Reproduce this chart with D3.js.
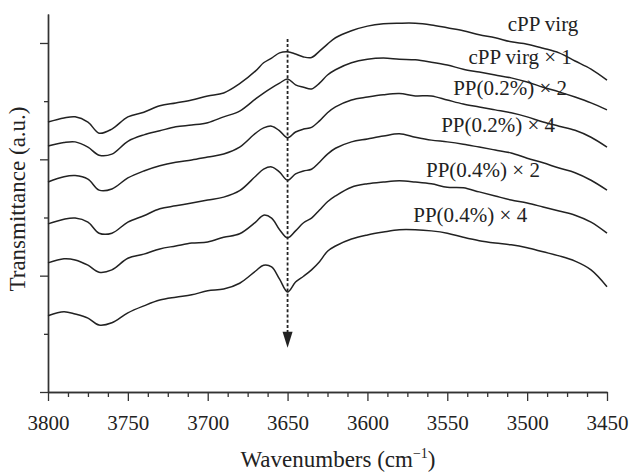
<!DOCTYPE html>
<html>
<head>
<meta charset="utf-8">
<script src="https://cdn.jsdelivr.net/npm/d3@7"></script>
<style>
  html, body { margin: 0; padding: 0; background: #fff; }
  svg { display: block; }
  text { font-family: "Liberation Serif", "Times New Roman", serif; fill: #222; }
</style>
</head>
<body>
<svg id="chart" width="631" height="474"></svg>
<script>
// Wavenumber grid (cm^-1)
const wavenumbers = [3800,3790,3783,3775,3768,3760,3750,3740,3730,3720,3710,3700,3690,3680,3670,3665,3660,3655,3650,3645,3640,3635,3630,3625,3620,3610,3600,3590,3580,3570,3560,3550,3540,3530,3520,3510,3500,3490,3480,3470,3460,3450];

// Transmittance (a.u., offset stacked)
const cppVirg     = [4.64,4.71,4.73,4.64,4.45,4.52,4.73,4.81,4.92,4.97,5.02,5.09,5.14,5.30,5.52,5.66,5.74,5.83,5.85,5.81,5.76,5.75,5.86,5.98,6.09,6.21,6.29,6.33,6.34,6.34,6.31,6.26,6.21,6.14,6.09,6.02,5.98,5.91,5.83,5.69,5.55,5.36];
const cppVirgX1   = [4.23,4.29,4.30,4.21,4.07,4.09,4.31,4.42,4.49,4.56,4.59,4.63,4.73,4.83,5.04,5.14,5.23,5.31,5.38,5.28,5.24,5.21,5.31,5.45,5.54,5.66,5.72,5.74,5.72,5.71,5.67,5.62,5.55,5.50,5.45,5.40,5.33,5.24,5.16,5.07,4.97,4.85];
const pp02X2      = [3.61,3.70,3.72,3.66,3.47,3.49,3.68,3.80,3.89,3.95,3.99,4.04,4.09,4.21,4.45,4.54,4.57,4.49,4.37,4.47,4.52,4.55,4.66,4.80,4.90,5.02,5.07,5.11,5.13,5.09,5.09,5.02,4.95,4.90,4.85,4.80,4.73,4.64,4.57,4.50,4.38,4.21];
const pp02X4      = [2.89,2.97,2.99,2.92,2.73,2.73,2.92,3.03,3.15,3.20,3.25,3.30,3.35,3.46,3.71,3.83,3.87,3.78,3.64,3.75,3.80,3.83,3.95,4.09,4.19,4.30,4.35,4.40,4.44,4.38,4.33,4.30,4.26,4.21,4.16,4.11,4.02,3.94,3.85,3.77,3.64,3.47];
const pp04X2      = [2.22,2.29,2.27,2.18,2.06,2.10,2.30,2.37,2.46,2.51,2.56,2.58,2.66,2.72,2.92,3.04,2.99,2.79,2.65,2.77,2.91,2.99,3.13,3.27,3.37,3.52,3.58,3.61,3.63,3.61,3.58,3.52,3.51,3.44,3.37,3.30,3.25,3.18,3.11,3.04,2.92,2.73];
const pp04X4      = [1.31,1.38,1.34,1.27,1.15,1.19,1.36,1.48,1.58,1.63,1.67,1.74,1.77,1.87,2.08,2.18,2.15,1.94,1.72,1.89,1.99,2.10,2.24,2.42,2.51,2.63,2.70,2.75,2.79,2.79,2.77,2.73,2.66,2.60,2.56,2.53,2.48,2.41,2.34,2.25,2.10,1.81];

const seriesNames  = ["cPP virg", "cPP virg × 1", "PP(0.2%) × 2", "PP(0.2%) × 4", "PP(0.4%) × 2", "PP(0.4%) × 4"];
const seriesValues = [cppVirg, cppVirgX1, pp02X2, pp02X4, pp04X2, pp04X4];
// label anchor (right end) positions in data units
const labelWn  = [3468, 3472, 3475, 3482.5, 3492, 3500];
const labelVal = [6.21, 5.64, 5.11, 4.47, 3.70, 2.92];

const xMajorTicks = [3800,3750,3700,3650,3600,3550,3500,3450];
const xMinorTicks = d3.range(3800, 3449, -12.5).filter(v => v % 50 !== 0);
const yMajorTicks = [0,2,4,6];
const yMinorTicks = [1,3,5];
const markerWn = 3650;
const markerTop = 6.07, markerTip = 0.76;

const svg = d3.select("#chart");
const x = d3.scaleLinear().domain([3800, 3450]).range([48, 607]);
const y = d3.scaleLinear().domain([0, 6.5]).range([392, 13.9]);

const axisColor = "#333";

// X axis
const gx = svg.append("g").attr("transform", "translate(0,392)");
gx.call(d3.axisBottom(x).tickValues(xMinorTicks).tickSize(5).tickSizeOuter(0).tickFormat(""));
const gx2 = svg.append("g").attr("transform", "translate(0,392)");
gx2.call(d3.axisBottom(x).tickValues(xMajorTicks).tickSize(9).tickSizeOuter(0).tickFormat(d3.format("d")));
gx2.selectAll("text").attr("y", 38).attr("dy", 0).style("font-size", "21px")
   .style("font-family", '"Liberation Serif", serif').attr("fill", "#222");
[gx, gx2].forEach(g => {
  g.selectAll("line").attr("stroke", axisColor).attr("stroke-width", 1.3);
  g.select(".domain").attr("stroke", axisColor).attr("stroke-width", 1.4);
});

// Y axis
const gy = svg.append("g").attr("transform", "translate(48,0)");
gy.call(d3.axisLeft(y).tickValues(yMinorTicks).tickSize(4).tickSizeOuter(0).tickFormat(""));
const gy2 = svg.append("g").attr("transform", "translate(48,0)");
gy2.call(d3.axisLeft(y).tickValues(yMajorTicks).tickSize(8).tickSizeOuter(0).tickFormat(""));
[gy, gy2].forEach(g => {
  g.selectAll("line").attr("stroke", axisColor).attr("stroke-width", 1.3);
  g.select(".domain").attr("stroke", axisColor).attr("stroke-width", 1.4);
});

// Curves
const line = d3.line()
  .x((d, i) => x(wavenumbers[i]))
  .y(d => y(d))
  .curve(d3.curveCatmullRom.alpha(0.5));

svg.append("g").selectAll("path")
  .data(seriesValues)
  .join("path")
  .attr("d", d => line(d))
  .attr("fill", "none")
  .attr("stroke", "#222")
  .attr("stroke-width", 1.5);

// Labels
svg.append("g").selectAll("text")
  .data(seriesNames)
  .join("text")
  .attr("x", (d, i) => x(labelWn[i]))
  .attr("y", (d, i) => y(labelVal[i]))
  .attr("text-anchor", "end")
  .style("font-size", "21px")
  .text(d => d);

// Dashed marker with arrow
const mx = x(markerWn);
svg.append("line")
  .attr("x1", mx).attr("x2", mx)
  .attr("y1", y(markerTop)).attr("y2", y(markerTip) - 14)
  .attr("stroke", "#222").attr("stroke-width", 1.8)
  .attr("stroke-dasharray", "3,2.2");
svg.append("path")
  .attr("d", `M${mx-5},${y(markerTip)-16} L${mx+5},${y(markerTip)-16} L${mx},${y(markerTip)} Z`)
  .attr("fill", "#222");

// Axis titles
const xt = svg.append("text")
  .attr("x", 338).attr("y", 467)
  .attr("text-anchor", "middle")
  .style("font-size", "23px");
xt.append("tspan").text("Wavenumbers (cm");
xt.append("tspan").text("−1").style("font-size", "14px").attr("dy", -9);
xt.append("tspan").text(")").attr("dy", 9);

svg.append("text")
  .attr("transform", "translate(25,199) rotate(-90)")
  .attr("text-anchor", "middle")
  .style("font-size", "23px")
  .text("Transmittance (a.u.)");
</script>
</body>
</html>
